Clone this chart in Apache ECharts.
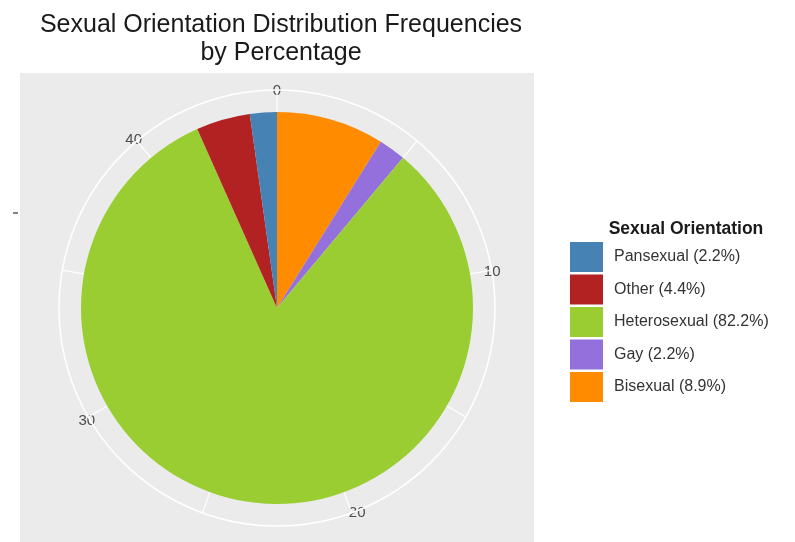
<!DOCTYPE html>
<html>
<head>
<meta charset="utf-8">
<script src="https://cdn.jsdelivr.net/npm/echarts@6/dist/echarts.min.js"></script>
<style>
  html, body { margin: 0; padding: 0; background: #fff; }
  #chart { width: 795px; height: 542px; }
</style>
</head>
<body>
<div id="chart"></div>
<script>
// counts per group, in the order the slices go clockwise from 12 o'clock
const groups = ['Bisexual', 'Gay', 'Heterosexual', 'Other', 'Pansexual']
const counts = [4, 1, 37, 2, 1]
const colors = ['#FF8C00', '#9370DB', '#9ACD32', '#B22222', '#4682B4']
const legendOrder = ['Pansexual', 'Other', 'Heterosexual', 'Gay', 'Bisexual']
const angleTicks = [0, 10, 20, 30, 40]

const total = counts.reduce((a, b) => a + b, 0)
const label = g => {
  const n = counts[groups.indexOf(g)]
  return g + ' (' + (n / total * 100).toFixed(1) + '%)'
}

const cx = 277
const cy = 308

const chart = echarts.init(document.getElementById('chart'))
chart.setOption({
  animation: false,
  title: [{
    text: 'Sexual Orientation Distribution Frequencies\nby Percentage',
    left: 276,
    top: 6,
    textAlign: 'center',
    textStyle: {
      fontFamily: 'Liberation Sans',
      fontSize: 25,
      fontWeight: 'normal',
      color: '#1a1a1a',
      lineHeight: 28
    }
  }, {
    text: 'Sexual Orientation',
    left: 681,
    top: 215,
    textAlign: 'center',
    textStyle: {
      fontFamily: 'Liberation Sans',
      fontSize: 17.5,
      fontWeight: 'bold',
      color: '#1a1a1a'
    }
  }],
  graphic: [{
    type: 'rect',
    z: -10,
    shape: { x: 20, y: 73, width: 514, height: 470 },
    style: { fill: '#EBEBEB' }
  }, {
    type: 'line',
    z: -10,
    shape: { x1: 13, y1: 213, x2: 18, y2: 213 },
    style: { stroke: '#333', lineWidth: 1.2 }
  }],
  legend: {
    orient: 'vertical',
    left: 570,
    top: 242,
    padding: 0,
    itemWidth: 33,
    itemHeight: 30,
    itemGap: 2.5,
    icon: 'rect',
    data: legendOrder.map(label),
    textStyle: {
      fontFamily: 'Liberation Sans',
      fontSize: 16,
      color: '#333',
      padding: [0, 0, 0, 6]
    }
  },
  polar: {
    center: [cx, cy],
    radius: 218
  },
  angleAxis: {
    type: 'value',
    min: 0,
    max: total,
    interval: 5,
    startAngle: 90,
    clockwise: true,
    axisLine: { lineStyle: { color: '#fff', width: 1.5 } },
    axisTick: { show: false },
    splitLine: { lineStyle: { color: '#fff', width: 1.2 } },
    axisLabel: {
      margin: -8,
      fontFamily: 'Liberation Sans',
      fontSize: 15,
      color: '#4d4d4d',
      formatter: v => (angleTicks.includes(v) ? String(v) : '')
    }
  },
  radiusAxis: {
    type: 'value',
    show: false,
    min: 0,
    max: 1
  },
  series: [{
    type: 'pie',
    center: [cx, cy],
    radius: [0, 196],
    startAngle: 90,
    clockwise: true,
    label: { show: false },
    labelLine: { show: false },
    emphasis: { disabled: true },
    itemStyle: { borderWidth: 0 },
    data: groups.map((g, i) => ({
      name: label(g),
      value: counts[i],
      itemStyle: { color: colors[i] }
    }))
  }]
})
</script>
</body>
</html>
